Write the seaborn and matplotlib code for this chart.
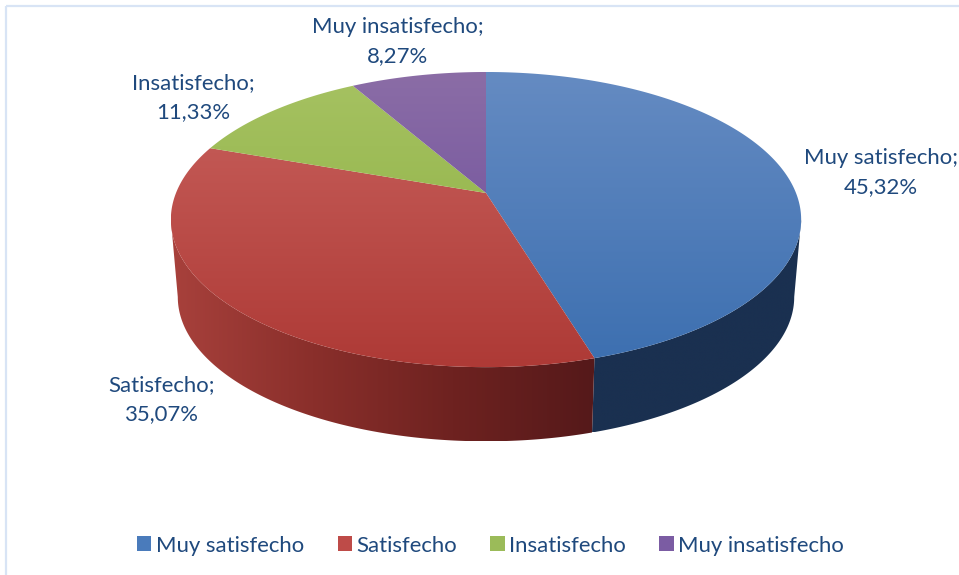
import numpy as np
import matplotlib
matplotlib.use("Agg")
import matplotlib.pyplot as plt
from matplotlib.colors import LinearSegmentedColormap
from matplotlib.patches import Patch, Polygon, Rectangle
import seaborn as sns

# Satisfaction survey shares, in percent
categories = ["Muy satisfecho", "Satisfecho", "Insatisfecho", "Muy insatisfecho"]
shares = [45.32, 35.07, 11.33, 8.27]

# Top-face gradient (far edge to near edge) and base colour of each slice
top_far = ["#658BC2", "#C9625E", "#A6C262", "#8B6DA6"]
top_near = ["#3C6FB0", "#AE3A36", "#8AAE3E", "#66479A"]
swatch = ["#4A7BBB", "#BE4B48", "#9BBB59", "#7B5CA3"]

TEXT = "#1F497D"
WIDTH, HEIGHT = 959, 575

sns.set_theme(style="white")
plt.rcParams["font.family"] = ["Lato", "DejaVu Sans"]

fig = plt.figure(figsize=(WIDTH / 100, HEIGHT / 100), dpi=100)
ax = fig.add_axes([0, 0, 1, 1])

# Perspective projection of the pie disc onto the canvas
CX, CY = 486.0, 193.0
A, B, K = 310.0, 142.8, 0.18
SHRINK, DEPTH = 0.978, 78.0

# Clockwise angles where the rim turns away from the viewer
FRONT_START = np.arccos(-K)
FRONT_END = 2 * np.pi - FRONT_START


def project(theta, lower=False):
    """Map clockwise-from-top angles to canvas points on the top or bottom rim."""
    x, y = np.sin(theta), np.cos(theta)
    px = A * x / (1 + K * y)
    py = -B * y / (1 + K * y)
    if lower:
        return CX + SHRINK * px, CY + SHRINK * py + DEPTH
    return CX + px, CY + py


def gradient_fill(vertices, stops, horizontal=False, span=None, zorder=1):
    """Paint a polygon with a linear colour ramp along x or y."""
    cmap = LinearSegmentedColormap.from_list("ramp", stops)
    ramp = np.linspace(0, 1, 256)
    data = ramp[None, :] if horizontal else ramp[:, None]
    xs, ys = vertices[:, 0], vertices[:, 1]
    y0, y1 = span if span else (ys.min(), ys.max())
    img = ax.imshow(
        data, cmap=cmap, vmin=0, vmax=1, aspect="auto", origin="upper",
        extent=[xs.min(), xs.max(), y1, y0], zorder=zorder,
        interpolation="bilinear",
    )
    patch = Polygon(vertices, closed=True, transform=ax.transData,
                    facecolor="none", edgecolor="none")
    ax.add_patch(patch)
    img.set_clip_path(patch)


fractions = np.array(shares) / sum(shares)
edges = np.concatenate([[0], np.cumsum(fractions)]) * 2 * np.pi

# Outer walls of the slices, limited to the part of the rim facing the viewer
wall_stops = [
    ["#1A3050", "#1A3050"],
    ["#A8413C", "#8A2F2B", "#6E2220", "#55191A"],
    ["#5F7530", "#5F7530"],
    ["#46305F", "#46305F"],
]
for i in range(len(shares)):
    start = max(edges[i], FRONT_START)
    end = min(edges[i + 1], FRONT_END)
    if end <= start:
        continue
    t = np.linspace(start, end, 200)
    up = np.column_stack(project(t))
    low = np.column_stack(project(t, lower=True))
    gradient_fill(np.vstack([up, low[::-1]]), wall_stops[i], horizontal=True)

# Top faces, one wedge per share; the ramp spans the whole disc
for i in range(len(shares)):
    t = np.linspace(edges[i], edges[i + 1], 300)
    wedge = np.vstack([[CX, CY], np.column_stack(project(t))])
    gradient_fill(wedge, [top_far[i], top_near[i]], span=(72.0, 367.0), zorder=2)

# Data labels, one per slice
label_xy = [(881, 172.5), (162, 400), (193, 97.5), (398, 41.5)]
for name, value, (lx, ly) in zip(categories, shares, label_xy):
    text = f"{name};\n{value:.2f}%".replace(".", ",")
    ax.text(lx, ly, text, ha="center", va="center", color=TEXT,
            fontsize=15.9, linespacing=1.57, zorder=3)

# Chart frame: only its top and left edges fall on the canvas
ax.add_patch(Rectangle((6, 6), WIDTH + 20, HEIGHT + 20, facecolor="none",
                       edgecolor="#D8E4F5", linewidth=1.6, zorder=0))

ax.set_xlim(0, WIDTH)
ax.set_ylim(HEIGHT, 0)
ax.axis("off")

handles = [Patch(facecolor=c, edgecolor="none", label=n) for c, n in zip(swatch, categories)]
ax.legend(
    handles=handles, loc="center", bbox_to_anchor=(490.5, 545.5),
    bbox_transform=ax.transData, ncol=4, frameon=False, fontsize=15.9,
    labelcolor=TEXT, handlelength=0.64, handleheight=0.64, handletextpad=0.2,
    columnspacing=1.52, borderpad=0, borderaxespad=0,
)

fig.savefig("out.png", dpi=100, facecolor="white")
